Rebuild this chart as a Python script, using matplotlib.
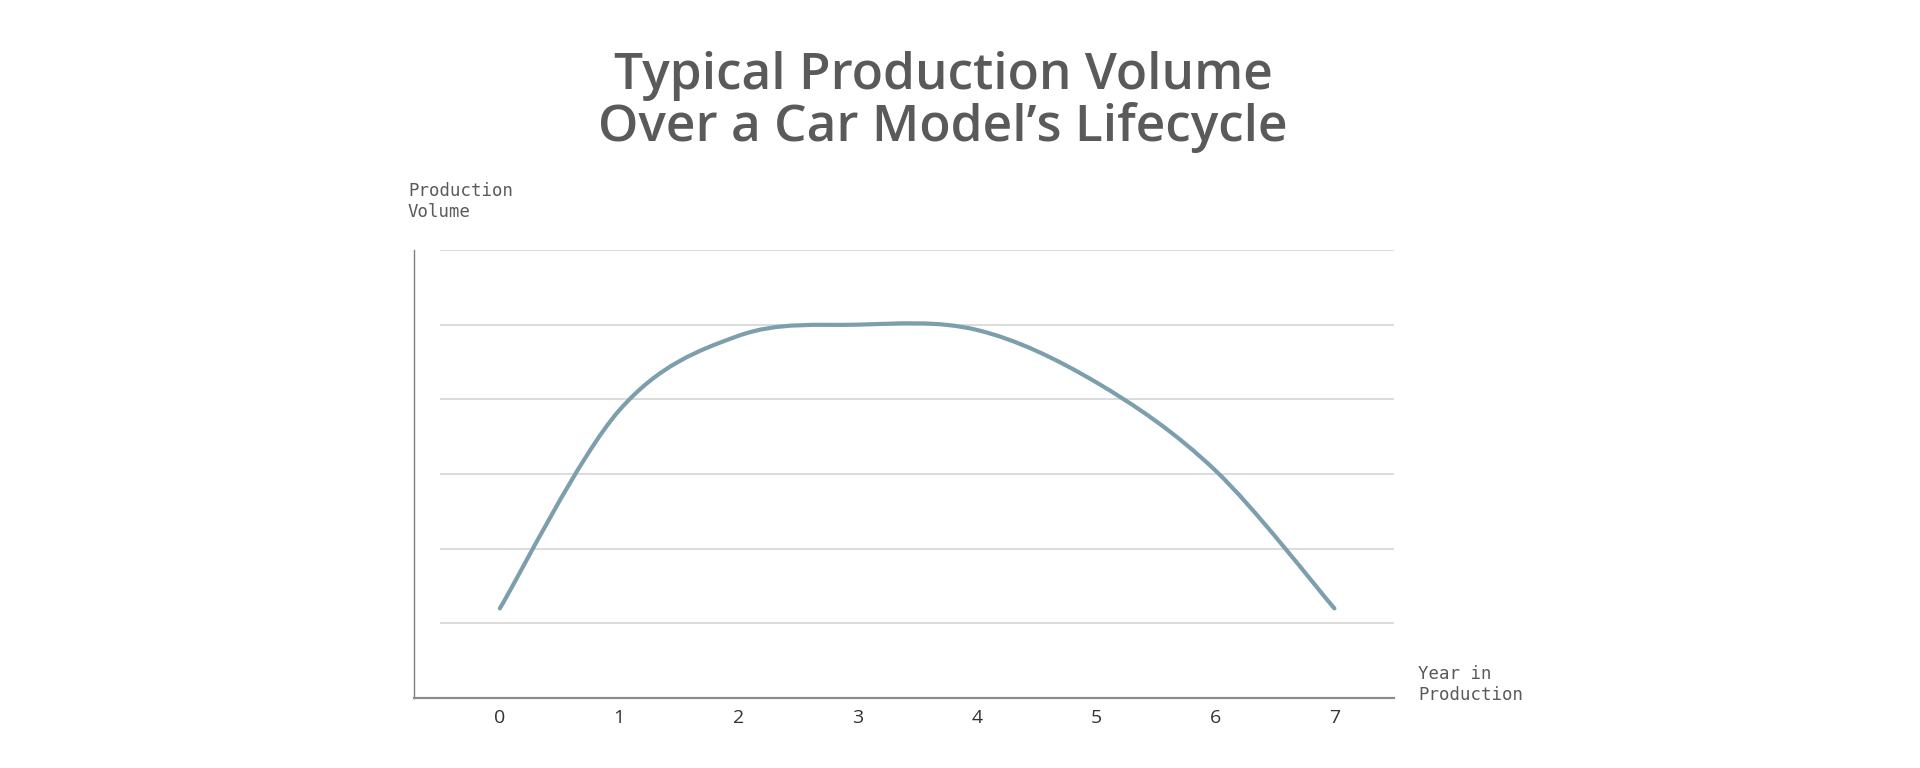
import numpy as np
import matplotlib
matplotlib.use("Agg")
import matplotlib.pyplot as plt
from matplotlib.path import Path
from matplotlib.patches import PathPatch

# data
years = [0, 1, 2, 3, 4, 5, 6, 7]
volume = [1.2, 3.85, 4.85, 5.0, 4.93, 4.23, 3.05, 1.2]
grid_levels = [1, 2, 3, 4, 5, 6]

TITLE = "Typical Production Volume\nOver a Car Model\u2019s Lifecycle"
LINE_COLOR = "#7d9fad"
TEXT_GREY = "#5a5a5a"


def cardinal_path(xs, ys):
    """Catmull-Rom curve through the points, as cubic bezier segments."""
    pts = np.column_stack([xs, ys]).astype(float)
    ext = np.vstack([pts[0], pts, pts[-1]])
    verts = [pts[0]]
    codes = [Path.MOVETO]
    for i in range(1, len(ext) - 2):
        p0, p1, p2, p3 = ext[i - 1], ext[i], ext[i + 1], ext[i + 2]
        c1 = p1 + (p2 - p0) / 6.0
        c2 = p2 - (p3 - p1) / 6.0
        verts += [c1, c2, p2]
        codes += [Path.CURVE4] * 3
    return Path(verts, codes)


fig = plt.figure(figsize=(19.2, 7.68), dpi=100)
ax = fig.add_axes([414 / 1920, 1 - 698 / 768, 980 / 1920, 448 / 768])
ax.set_xlim(-0.72, 7.5)
ax.set_ylim(0, 6)

# horizontal grid, starting a bit right of the y axis
ax.hlines(grid_levels, -0.5, 7.5, color="#d6d6d6", lw=1.2, zorder=1)

patch = PathPatch(cardinal_path(years, volume), facecolor="none",
                  edgecolor=LINE_COLOR, lw=3.0, capstyle="round",
                  joinstyle="round", zorder=3)
ax.add_patch(patch)

for side in ("top", "right"):
    ax.spines[side].set_visible(False)
ax.spines["left"].set_color("#808080")
ax.spines["left"].set_linewidth(1.0)
ax.spines["bottom"].set_color("#8c8c8c")
ax.spines["bottom"].set_linewidth(1.6)

ax.set_yticks([])
ax.set_xticks(years)
ax.set_xticklabels([str(y) for y in years], fontsize=14,
                   family="Open Sans", color="#333333")
ax.tick_params(axis="x", length=0, pad=8)

fig.text(408 / 1920, 1 - 182 / 768, "Production\nVolume", ha="left", va="top",
         fontsize=12.5, family="DejaVu Sans Mono", color=TEXT_GREY,
         linespacing=1.2)
fig.text(1418 / 1920, 1 - 665 / 768, "Year in\nProduction", ha="left",
         va="top", fontsize=12.5, family="DejaVu Sans Mono", color=TEXT_GREY,
         linespacing=1.2)

fig.text(943 / 1920, 1 - 51 / 768, TITLE, ha="center", va="top",
         fontsize=37, family="Open Sans", fontweight="semibold",
         color=TEXT_GREY, linespacing=1.015)

fig.savefig("out.png", dpi=100, facecolor="white")
